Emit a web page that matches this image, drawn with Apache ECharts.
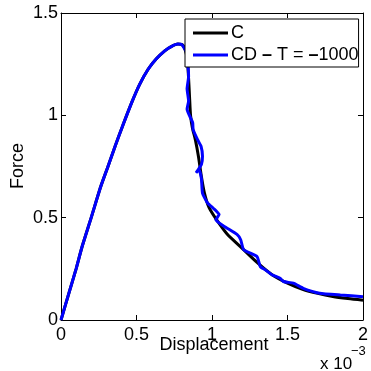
<!DOCTYPE html>
<html>
<head>
<meta charset="utf-8">
<script src="https://cdn.jsdelivr.net/npm/echarts@6/dist/echarts.min.js"></script>
<style>html,body{margin:0;padding:0;background:#fff;}#c{width:371px;height:371px;}</style>
</head>
<body>
<div id="c"></div>
<script>
// Displacement in units of 1e-3
var xC = [0, 0.05, 0.1, 0.14, 0.2, 0.26, 0.31, 0.359, 0.41, 0.468, 0.52, 0.577, 0.63, 0.687, 0.73, 0.774, 0.81, 0.835, 0.845, 0.852, 0.858, 0.87, 0.89, 0.91, 0.93, 0.95, 0.98, 1.03, 1.1, 1.2, 1.3, 1.4, 1.5, 1.6, 1.7, 1.8, 1.9, 2.0];
var yC = [0, 0.125, 0.25, 0.359, 0.5, 0.645, 0.748, 0.85, 0.952, 1.062, 1.15, 1.225, 1.275, 1.315, 1.336, 1.348, 1.34, 1.28, 1.18, 1.08, 1.0, 0.94, 0.88, 0.8, 0.7, 0.62, 0.55, 0.49, 0.42, 0.35, 0.28, 0.22, 0.18, 0.15, 0.13, 0.115, 0.105, 0.097];
var xCD = [0, 0.05, 0.1, 0.14, 0.2, 0.26, 0.31, 0.359, 0.41, 0.468, 0.52, 0.577, 0.63, 0.687, 0.73, 0.774, 0.80, 0.83, 0.84, 0.845, 0.835, 0.845, 0.835, 0.872, 0.875, 0.905, 0.927, 0.937, 0.93, 0.894, 0.915, 0.93, 0.937, 0.97, 1.01, 1.047, 1.025, 1.08, 1.167, 1.19, 1.21, 1.298, 1.32, 1.353, 1.397, 1.451, 1.473, 1.539, 1.604, 1.713, 1.85, 2.0];
var yCD = [0, 0.125, 0.25, 0.359, 0.5, 0.645, 0.748, 0.85, 0.952, 1.062, 1.15, 1.225, 1.275, 1.315, 1.336, 1.348, 1.345, 1.31, 1.25, 1.19, 1.13, 1.07, 1.03, 0.964, 0.93, 0.88, 0.85, 0.80, 0.76, 0.719, 0.735, 0.69, 0.62, 0.572, 0.545, 0.515, 0.49, 0.458, 0.417, 0.392, 0.343, 0.31, 0.261, 0.245, 0.221, 0.204, 0.188, 0.18, 0.155, 0.131, 0.122, 0.114];
var seriesNames = ['C', 'CD - T = -1000'];
var xTicks = [0, 0.5, 1, 1.5, 2];
var yTicks = [0, 0.5, 1, 1.5];

function pairs(xs, ys) { return xs.map(function (x, i) { return [x, ys[i]]; }); }
var F = 'Liberation Sans, Arial, Helvetica, sans-serif';
var chart = echarts.init(document.getElementById('c'), null, {renderer: 'canvas'});
var axisCommon = {
  type: 'value', splitLine: {show: false},
  axisLine: {show: true, onZero: false, lineStyle: {color: '#000', width: 1}},
  axisTick: {show: true, inside: true, length: 5, lineStyle: {color: '#000'}}
};
chart.setOption({
  animation: false,
  backgroundColor: '#fff',
  grid: {left: 61, right: 4, top: 13, bottom: 51},
  xAxis: [
    Object.assign({}, axisCommon, {min: xTicks[0], max: xTicks[xTicks.length - 1], interval: 0.5, position: 'bottom',
      axisLabel: {color: '#000', fontFamily: F, fontSize: 18, margin: 6, formatter: function (v) { return String(v); }}}),
    Object.assign({}, axisCommon, {min: xTicks[0], max: xTicks[xTicks.length - 1], interval: 0.5, position: 'top', axisLabel: {show: false}})
  ],
  yAxis: [
    Object.assign({}, axisCommon, {min: yTicks[0], max: yTicks[yTicks.length - 1], interval: 0.5, position: 'left',
      axisLabel: {color: '#000', fontFamily: F, fontSize: 18, margin: 3, formatter: function (v) { return String(v); }}}),
    Object.assign({}, axisCommon, {min: yTicks[0], max: yTicks[yTicks.length - 1], interval: 0.5, position: 'right', axisLabel: {show: false}})
  ],
  legend: {
    orient: 'vertical', left: 185, top: 19,
    padding: [5, 0, 3, 8], itemGap: 4, itemWidth: 35, itemHeight: 3,
    borderColor: '#000', borderWidth: 1, backgroundColor: '#fff', borderRadius: 0,
    textStyle: {color: '#000', fontFamily: F, fontSize: 18, padding: [0, 0, 0, -2],
      rich: {d: {fontFamily: F, fontSize: 18, fontWeight: 'bold', color: '#000'}, t: {fontFamily: F, fontSize: 18, color: '#000'}}},
    formatter: function (name) {
      if (name === seriesNames[1]) return '{t|CD }{d|\u2013}{t| T = }{d|\u2013}{t|1000}';
      return '{t|' + name + '}';
    },
    data: [{name: seriesNames[0], icon: 'rect'}, {name: seriesNames[1], icon: 'rect'}]
  },
  series: [
    {name: seriesNames[0], type: 'line', data: pairs(xC, yC), symbol: 'none', smooth: 0.25,
      lineStyle: {color: '#000', width: 3}, itemStyle: {color: '#000'}, z: 2},
    {name: seriesNames[1], type: 'line', data: pairs(xCD, yCD), symbol: 'none', smooth: 0.15,
      lineStyle: {color: '#0000ff', width: 3}, itemStyle: {color: '#0000ff'}, z: 3}
  ],
  graphic: [
    {type: 'text', x: 214, y: 336, style: {text: 'Displacement', font: '18px ' + F, fill: '#000', textAlign: 'center', textVerticalAlign: 'top'}},
    {type: 'text', x: 18, y: 166, rotation: Math.PI / 2,
      style: {text: 'Force', font: '18px ' + F, fill: '#000', textAlign: 'center', textVerticalAlign: 'middle'}},
    {type: 'text', x: 320, y: 356, style: {text: 'x 10', font: '17px ' + F, fill: '#000', textVerticalAlign: 'top'}},
    {type: 'text', x: 351, y: 345, style: {text: '\u22123', font: '13px ' + F, fill: '#000', textVerticalAlign: 'top'}}
  ]
});
</script>
</body>
</html>
